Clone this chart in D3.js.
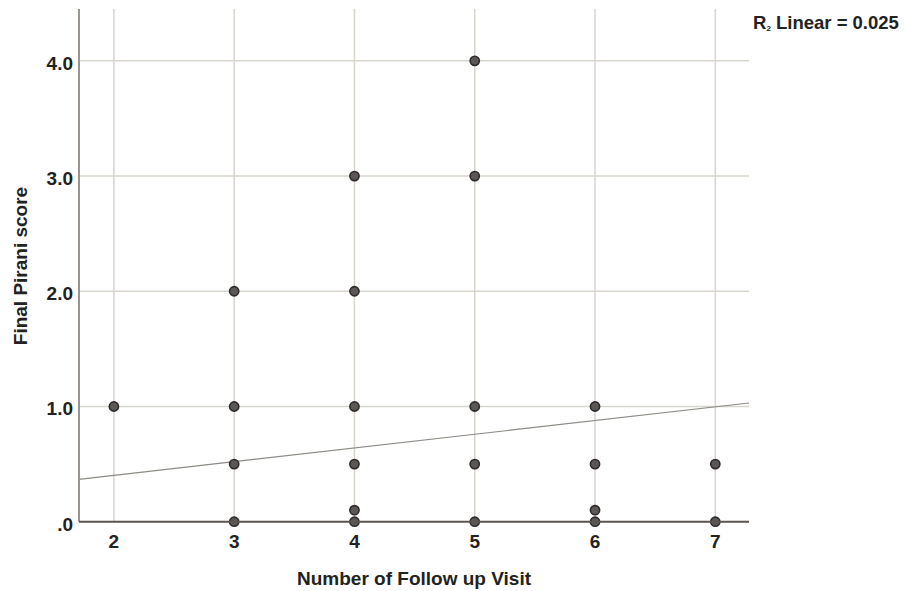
<!DOCTYPE html>
<html>
<head>
<meta charset="utf-8">
<script src="https://cdn.jsdelivr.net/npm/d3@7"></script>
<style>
body { margin: 0; background: #fff; }
text { font-family: "Liberation Sans", Arial, sans-serif; font-weight: bold; fill: #222; }
</style>
</head>
<body>
<svg id="chart"></svg>
<script>
var width = 907;
var height = 591;

// points (visits, final Pirani score)
var visits = [2, 3, 3, 3, 3, 4, 4, 4, 4, 4, 4, 5, 5, 5, 5, 5, 6, 6, 6, 6, 7, 7];
var scores = [1, 2, 1, 0.5, 0, 3, 2, 1, 0.5, 0.1, 0, 4, 3, 1, 0.5, 0, 1, 0.5, 0.1, 0, 0.5, 0];

var xTicks = [2, 3, 4, 5, 6, 7];
var yTicks = [0, 1, 2, 3, 4];
var yTickLabels = ['.0', '1.0', '2.0', '3.0', '4.0'];

// fit line
var fitIntercept = 0.164;
var fitSlope = 0.119;
var r2Text = '0.025';

var svg = d3.select('#chart')
    .attr('width', width)
    .attr('height', height)

var x = d3.scaleLinear()
    .domain([1.71, 7.28])
    .range([79, 749])

var y = d3.scaleLinear()
    .domain([0, 4.45])
    .range([521.7, 9])

var gridColor = '#d8d5cd';

// vertical grid
svg.selectAll('.vgrid')
    .data(xTicks)
    .enter()
    .append('line')
    .attr('x1', d => x(d))
    .attr('x2', d => x(d))
    .attr('y1', y(4.45))
    .attr('y2', y(0))
    .style('stroke', gridColor)
    .style('stroke-width', 1.5)

// horizontal grid
svg.selectAll('.hgrid')
    .data(yTicks.slice(1))
    .enter()
    .append('line')
    .attr('x1', x(1.71))
    .attr('x2', x(7.28))
    .attr('y1', d => y(d))
    .attr('y2', d => y(d))
    .style('stroke', gridColor)
    .style('stroke-width', 1.5)

// fit line
svg.append('line')
    .attr('x1', x(1.71))
    .attr('y1', y(fitIntercept + fitSlope * 1.71))
    .attr('x2', x(7.28))
    .attr('y2', y(fitIntercept + fitSlope * 7.28))
    .style('stroke', '#8e8a85')
    .style('stroke-width', 1.2)

// points
svg.selectAll('circle')
    .data(visits)
    .enter()
    .append('circle')
    .attr('cx', d => x(d))
    .attr('cy', (d, i) => y(scores[i]))
    .attr('r', 4.6)
    .style('fill', '#5b5757')
    .style('stroke', '#2e2a2a')
    .style('stroke-width', 1.6)

// axis lines
svg.append('line')
    .attr('x1', x(1.71)).attr('x2', x(1.71))
    .attr('y1', y(4.45)).attr('y2', y(0))
    .style('stroke', '#9a968f')
    .style('stroke-width', 2)

svg.append('line')
    .attr('x1', x(1.71)).attr('x2', x(7.28))
    .attr('y1', y(0)).attr('y2', y(0))
    .style('stroke', '#5a5450')
    .style('stroke-width', 2)

// tick labels
svg.selectAll('.xlab')
    .data(xTicks)
    .enter()
    .append('text')
    .attr('x', d => x(d))
    .attr('y', 548)
    .attr('text-anchor', 'middle')
    .style('font-size', '19px')
    .text(d => d)

svg.selectAll('.ylab')
    .data(yTicks)
    .enter()
    .append('text')
    .attr('x', 73)
    .attr('y', d => y(d) + 9)
    .attr('text-anchor', 'end')
    .style('font-size', '19px')
    .text((d, i) => yTickLabels[i])

// axis titles
svg.append('text')
    .attr('x', 414)
    .attr('y', 585)
    .attr('text-anchor', 'middle')
    .style('font-size', '19px')
    .text('Number of Follow up Visit')

svg.append('text')
    .attr('transform', 'translate(27,266) rotate(-90)')
    .attr('text-anchor', 'middle')
    .style('font-size', '19px')
    .text('Final Pirani score')

// R2 label
var lab = svg.append('text')
    .attr('x', 753)
    .attr('y', 29)
    .style('font-size', '18.5px')
lab.append('tspan').text('R')
lab.append('tspan').attr('dy', 2).style('font-size', '8px').text('2')
lab.append('tspan').attr('dy', -2).text(' Linear = ' + r2Text)
</script>
</body>
</html>
